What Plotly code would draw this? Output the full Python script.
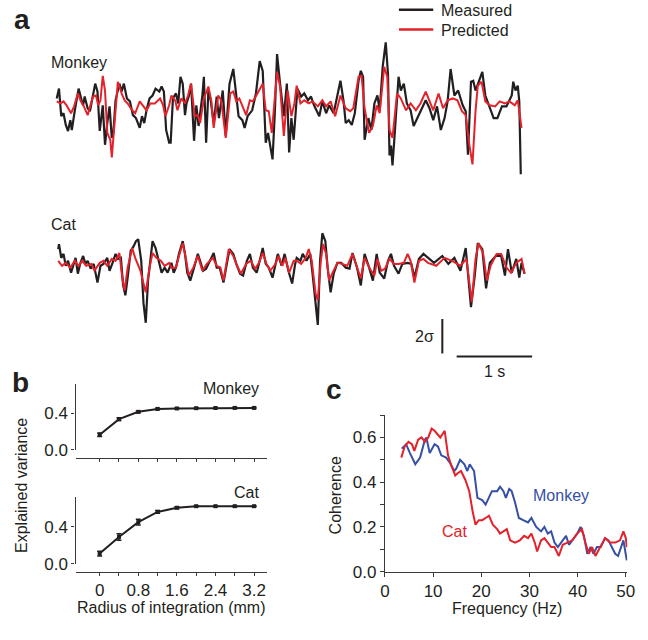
import plotly.graph_objects as go

# ---------------- data ----------------
# Panel a, monkey (time in s, signal in units of sigma)
monkey_t_meas = [0.01,0.04,0.07,0.10,0.13,0.16,0.19,0.21,0.25,0.30,
                 0.34,0.36,0.38,0.42,0.45,0.48,0.52,0.55,0.58,0.62,
                 0.65,0.68,0.71,0.74,0.76,0.79,0.84,0.87,0.90,0.94,
                 0.98,1.02,1.06,1.11,1.14,1.17,1.20,1.24,1.28,1.32,
                 1.37,1.40,1.43,1.46,1.50,1.52,1.55,1.59,1.62,1.65,
                 1.68,1.71,1.73,1.76,1.79,1.83,1.86,1.89,1.94,1.96,
                 1.99,2.02,2.05,2.09,2.13,2.16,2.21,2.25,2.30,2.35,
                 2.38,2.42,2.47,2.50,2.54,2.60,2.65,2.70,2.74,2.78,
                 2.81,2.87,2.90,2.93,2.97,3.02,3.06,3.09,3.12,3.15,
                 3.20,3.25,3.29,3.34,3.38,3.42,3.49,3.53,3.58,3.62,
                 3.68,3.73,3.77,3.81,3.84,3.88,3.92,3.96,4.01,4.04,
                 4.07,4.09,4.14,4.18,4.22,4.26,4.29,4.33,4.37,4.40,
                 4.42,4.44,4.46,4.49,4.54,4.57,4.61,4.65,4.70,4.74,
                 4.79,4.84,4.90,4.95,5.00,5.05,5.10,5.15,5.19,5.23,
                 5.28,5.33,5.39,5.43,5.46,5.50,5.53,5.56,5.60,5.65,
                 5.69,5.74,5.80,5.85,5.91,5.97,6.04,6.06,6.09,6.12,
                 6.14,6.16]
monkey_v_meas = [0.00,0.57,-1.03,-0.86,-1.54,-1.89,-1.26,-1.83,-0.69,0.57,
                 -0.11,-0.40,0.11,-0.57,-0.74,-0.11,0.86,0.40,-1.89,-0.40,
                 -2.69,-1.43,-0.46,-2.29,-2.00,-0.11,0.86,0.40,0.86,0.00,
                 -0.17,-0.97,-1.14,-1.71,-1.03,-1.43,-0.69,0.00,0.17,0.57,
                 0.40,0.69,0.40,-1.83,-2.57,-2.57,0.00,0.29,-0.29,1.26,
                 0.86,-0.97,-0.29,0.11,0.86,-2.46,-0.40,-1.60,0.17,1.26,
                 -2.57,0.46,-0.11,-1.43,0.11,-1.14,0.46,-2.17,0.86,1.71,
                 0.46,-1.03,-1.26,-1.71,-1.03,-0.69,0.29,2.17,1.60,-2.57,
                 -2.00,-3.54,-0.86,2.57,0.86,-1.03,0.86,-3.14,-1.14,-2.40,
                 0.57,0.11,0.29,-0.11,0.11,-0.40,-1.03,-0.17,-0.86,-0.40,
                 -0.86,0.29,1.03,-0.11,-1.43,-1.26,-1.54,-0.86,1.03,1.60,
                 1.26,-2.40,-1.14,-1.83,-0.29,0.17,-0.69,1.83,3.26,1.43,
                 -3.31,-2.74,-3.89,-2.00,1.26,0.46,0.86,-0.29,-0.69,-1.60,
                 -1.14,-0.69,-0.11,-0.57,-1.26,-0.46,-1.83,-1.14,-0.17,1.71,
                 0.17,0.46,-0.40,-0.74,-3.26,0.97,1.03,0.46,0.97,1.54,
                 0.17,-0.40,-1.14,-1.14,-0.46,-0.46,0.17,0.97,0.46,0.74,
                 -0.17,-4.40]
monkey_t_pred = [0.01,0.06,0.10,0.14,0.20,0.24,0.29,0.33,0.37,0.42,
                 0.49,0.53,0.56,0.59,0.62,0.65,0.68,0.72,0.74,0.78,
                 0.82,0.87,0.91,0.95,1.01,1.05,1.11,1.16,1.20,1.25,
                 1.31,1.38,1.42,1.45,1.50,1.53,1.58,1.61,1.66,1.71,
                 1.75,1.79,1.84,1.88,1.91,1.96,2.02,2.06,2.09,2.15,
                 2.19,2.25,2.31,2.35,2.39,2.43,2.48,2.52,2.57,2.61,
                 2.67,2.74,2.78,2.82,2.86,2.89,2.93,2.97,3.02,3.07,
                 3.12,3.16,3.19,3.24,3.29,3.35,3.40,3.47,3.53,3.58,
                 3.64,3.70,3.77,3.84,3.90,3.94,4.01,4.05,4.09,4.15,
                 4.20,4.25,4.29,4.35,4.39,4.42,4.46,4.52,4.57,4.64,
                 4.70,4.77,4.83,4.90,4.95,5.00,5.07,5.13,5.19,5.26,
                 5.32,5.38,5.43,5.47,5.52,5.56,5.59,5.64,5.69,5.75,
                 5.82,5.88,5.95,6.01,6.08,6.12,6.17]
monkey_v_pred = [-0.17,-0.29,-0.17,-0.40,-0.86,-0.46,0.29,-0.17,-0.46,-0.97,
                 0.11,0.17,-0.40,-0.11,1.31,0.46,-2.00,-2.40,-3.43,-1.03,
                 0.97,0.29,-0.11,-0.29,-0.69,-0.86,-0.17,-0.46,-0.69,-0.29,
                 -0.29,0.00,-0.40,-1.03,-0.40,0.17,-0.11,-0.69,0.00,-0.29,
                 0.17,0.86,-1.03,-0.97,-1.43,0.00,0.69,-0.17,-1.71,0.17,
                 -0.11,-2.29,0.29,0.40,-0.17,0.00,-0.57,-0.97,-0.11,-0.17,
                 0.29,0.86,-0.69,-0.74,-2.00,-0.46,1.54,0.69,-2.17,0.46,
                 -1.03,-0.29,0.74,-0.29,-0.11,-0.29,-0.17,-0.46,-0.11,-0.46,
                 -0.17,-1.03,0.17,-0.57,-0.74,-0.57,1.26,1.31,-0.57,-2.00,
                 -1.60,-0.40,-0.86,1.83,1.26,-1.83,-2.29,0.29,0.00,-0.69,
                 -0.29,-0.69,-0.29,0.40,-0.11,-0.69,0.29,-0.57,-0.11,0.00,
                 -0.11,-0.74,-0.97,-2.46,-3.83,-0.74,0.74,0.97,-0.17,-0.40,
                 -0.46,-0.17,-0.29,-0.17,-0.40,-0.11,-1.71]

# Panel a, cat
cat_t_meas = [0.03,0.04,0.07,0.10,0.13,0.16,0.20,0.23,0.26,0.29,
              0.32,0.36,0.39,0.42,0.46,0.50,0.55,0.59,0.63,0.68,
              0.71,0.75,0.79,0.82,0.86,0.89,0.92,0.95,0.99,1.03,
              1.06,1.09,1.13,1.16,1.19,1.22,1.28,1.32,1.37,1.40,
              1.44,1.48,1.53,1.56,1.59,1.63,1.68,1.71,1.74,1.78,
              1.83,1.88,1.91,1.95,1.99,2.04,2.09,2.13,2.17,2.22,
              2.27,2.30,2.35,2.39,2.44,2.48,2.53,2.57,2.61,2.66,
              2.70,2.74,2.78,2.82,2.87,2.91,2.94,2.99,3.03,3.08,
              3.13,3.17,3.19,3.24,3.27,3.32,3.37,3.40,3.45,3.47,
              3.50,3.53,3.57,3.60,3.64,3.68,3.73,3.78,3.84,3.89,
              3.93,3.99,4.04,4.09,4.15,4.20,4.25,4.29,4.35,4.40,
              4.44,4.48,4.54,4.59,4.66,4.71,4.75,4.81,4.87,4.93,
              5.01,5.12,5.20,5.28,5.36,5.43,5.50,5.55,5.59,5.65,
              5.70,5.75,5.83,5.90,5.95,5.99,6.04,6.10,6.14,6.17,
              6.21]
cat_v_meas = [0.97,1.26,0.46,0.69,0.00,0.29,-0.40,0.11,0.46,-0.46,
              0.11,0.57,0.11,0.29,-0.17,0.11,-0.97,0.00,0.11,0.46,
              -0.29,0.17,0.69,0.40,0.46,-1.14,-1.71,-0.69,0.86,1.14,
              1.43,1.54,0.29,-2.17,-3.31,-0.86,1.43,1.03,0.11,-0.40,
              -0.11,-0.40,0.17,-0.40,-0.11,0.69,1.43,0.69,-0.40,-0.86,
              -0.11,0.69,0.29,-0.29,-0.17,0.29,0.74,-0.11,-0.11,-0.97,
              0.11,0.97,0.69,0.11,-0.46,-0.57,0.29,0.69,-0.11,-0.40,
              0.29,1.03,0.11,-0.11,-0.69,0.11,0.69,0.00,0.69,-0.29,
              -1.03,0.11,0.46,0.29,0.69,0.29,0.69,-0.46,-2.57,-3.43,
              0.29,1.89,1.43,-0.11,-1.54,-0.46,0.17,0.17,-0.11,-0.17,
              0.74,-0.11,-1.14,0.69,-0.11,-0.86,0.69,-0.40,-0.74,0.29,
              0.69,0.00,-0.46,0.11,0.17,0.11,-0.69,0.40,0.69,0.46,
              0.17,0.57,0.11,0.46,-0.29,1.03,-2.40,-0.57,1.31,0.97,
              -1.31,0.17,0.57,0.57,-0.57,0.97,-0.40,0.40,-0.69,0.17,
              -0.46]
cat_t_pred = [0.03,0.08,0.13,0.19,0.25,0.30,0.35,0.40,0.47,0.51,
              0.58,0.63,0.68,0.74,0.79,0.84,0.88,0.91,0.95,1.01,
              1.05,1.12,1.16,1.19,1.24,1.28,1.33,1.39,1.44,1.50,
              1.53,1.59,1.63,1.68,1.72,1.76,1.82,1.88,1.94,2.00,
              2.08,2.13,2.18,2.22,2.29,2.35,2.40,2.45,2.52,2.58,
              2.64,2.69,2.74,2.79,2.84,2.91,2.95,3.00,3.04,3.09,
              3.15,3.19,3.25,3.31,3.35,3.39,3.44,3.47,3.51,3.54,
              3.58,3.62,3.66,3.73,3.79,3.86,3.93,3.99,4.04,4.09,
              4.16,4.22,4.26,4.31,4.36,4.42,4.48,4.54,4.61,4.66,
              4.70,4.75,4.81,4.87,4.93,5.04,5.15,5.25,5.36,5.44,
              5.51,5.56,5.60,5.66,5.71,5.76,5.84,5.90,5.97,6.03,
              6.10,6.17,6.21]
cat_v_pred = [0.29,0.00,0.17,-0.11,0.29,0.00,0.29,0.00,0.11,-0.29,
              0.17,0.29,0.00,0.40,0.29,0.74,-0.74,-1.43,-0.11,1.03,
              0.46,-0.29,-1.03,-1.54,-0.11,0.74,0.46,0.29,0.00,0.17,
              -0.11,-0.11,0.57,1.31,0.46,-0.57,-0.11,0.57,-0.29,0.11,
              0.46,0.00,-0.11,-0.86,0.97,0.57,0.00,-0.46,0.11,0.29,
              -0.17,0.17,0.74,0.11,-0.29,0.11,0.57,0.00,0.46,-0.40,
              0.29,0.29,0.11,0.46,0.97,0.29,-1.60,-2.00,0.29,1.26,
              0.69,-0.86,-0.46,0.17,0.11,0.00,0.69,-0.17,-0.74,0.46,
              -0.17,-0.57,0.40,-0.29,-0.17,0.40,0.11,0.11,0.17,0.69,
              0.29,-0.97,0.29,0.40,0.17,0.00,0.46,0.29,0.00,0.40,
              -2.11,0.40,1.31,0.74,-0.86,0.00,0.69,0.69,-0.11,-0.40,
              0.17,0.40,-0.46]

# Panel b: explained variance vs radius of integration (mm)
radius = [0, 0.4, 0.8, 1.2, 1.6, 2.0, 2.4, 2.8, 3.2]
ev_monkey = [0.165, 0.335, 0.415, 0.447, 0.452, 0.455, 0.457, 0.458, 0.458]
ev_monkey_err = [0.02, 0.015, 0.01, 0.008, 0.006, 0.006, 0.006, 0.006, 0.006]
ev_cat = [0.11, 0.29, 0.45, 0.56, 0.605, 0.622, 0.622, 0.622, 0.622]
ev_cat_err = [0.025, 0.035, 0.03, 0.015, 0.01, 0.006, 0.006, 0.006, 0.006]
radius_ticktext = ["0", "", "0.8", "", "1.6", "", "2.4", "", "3.2"]

# Panel c: coherence vs frequency (Hz)
freq_monkey = [3.5,4.4,5.2,6.3,7.3,8.3,8.6,9.3,10.3,11.0,11.7,12.7,13.4,14.4,14.8,
               15.6,16.5,17.1,17.6,18.5,19.2,20.2,20.9,21.6,22.2,23.3,23.9,24.6,25.1,
               25.8,26.3,27.0,27.8,28.7,29.7,30.4,31.4,32.4,33.1,33.8,34.5,35.2,35.9,
               36.9,37.6,38.2,38.9,39.9,40.6,41.3,42.0,42.7,43.3,44.0,44.8,45.7,46.4,
               47.1,47.8,48.4,49.5,50.2]
coh_monkey = [0.55,0.57,0.53,0.48,0.51,0.59,0.60,0.53,0.57,0.56,0.52,0.51,0.49,0.45,0.46,
              0.50,0.48,0.45,0.48,0.45,0.33,0.32,0.30,0.33,0.36,0.36,0.38,0.36,0.33,
              0.37,0.36,0.31,0.24,0.23,0.22,0.24,0.20,0.18,0.20,0.17,0.18,0.13,0.11,
              0.14,0.16,0.12,0.14,0.17,0.20,0.16,0.08,0.11,0.08,0.11,0.11,0.15,0.14,
              0.11,0.08,0.07,0.14,0.05]
freq_cat = [3.4,4.1,4.9,5.6,6.1,6.9,7.6,8.3,9.0,9.7,10.3,11.0,11.5,12.4,13.1,13.7,
            14.6,15.1,15.8,16.7,17.5,18.2,18.8,19.5,20.2,20.9,21.6,22.4,23.3,23.9,
            24.6,25.3,26.0,27.0,28.0,28.9,29.7,30.4,31.1,31.6,32.4,33.1,33.8,34.5,
            35.2,36.1,36.9,37.9,38.9,39.9,40.9,41.6,42.3,43.0,43.7,44.7,45.7,46.7,
            47.8,48.8,49.5,50.0,50.2]
coh_cat = [0.51,0.56,0.58,0.57,0.54,0.59,0.60,0.58,0.60,0.64,0.63,0.61,0.60,0.63,0.52,0.48,
           0.43,0.44,0.45,0.41,0.36,0.27,0.21,0.23,0.23,0.24,0.25,0.21,0.19,0.17,
           0.18,0.19,0.14,0.13,0.14,0.16,0.15,0.17,0.13,0.09,0.14,0.15,0.13,0.11,
           0.11,0.07,0.12,0.13,0.14,0.17,0.19,0.13,0.08,0.11,0.07,0.11,0.15,0.13,
           0.13,0.14,0.18,0.15,0.11]

legend_names = ["Measured", "Predicted"]

# ---------------- styling ----------------
W, H = 648, 640
FONT = "Liberation Sans, Arial, Helvetica, sans-serif"
INK = "#231f20"
RED = "#e3222b"
BLUE = "#3550a4"
AXC = "#3a3a3a"


def fx(p):
    return p / W


def fy(p):
    return 1 - p / H


fig = go.Figure()

# Panel a traces
fig.add_trace(go.Scatter(x=monkey_t_meas, y=monkey_v_meas, mode="lines", name=legend_names[0],
                         line=dict(color=INK, width=2.2), xaxis="x", yaxis="y"))
fig.add_trace(go.Scatter(x=monkey_t_pred, y=monkey_v_pred, mode="lines", name=legend_names[1],
                         line=dict(color=RED, width=2.0), xaxis="x", yaxis="y"))
fig.add_trace(go.Scatter(x=cat_t_meas, y=cat_v_meas, mode="lines",
                         line=dict(color=INK, width=2.2), xaxis="x2", yaxis="y2"))
fig.add_trace(go.Scatter(x=cat_t_pred, y=cat_v_pred, mode="lines",
                         line=dict(color=RED, width=2.0), xaxis="x2", yaxis="y2"))

# Panel b traces
for xs, ys, es, xa, ya in [(radius, ev_monkey, ev_monkey_err, "x3", "y3"),
                           (radius, ev_cat, ev_cat_err, "x4", "y4")]:
    fig.add_trace(go.Scatter(x=xs, y=ys, mode="lines+markers",
                             line=dict(color=INK, width=2),
                             marker=dict(symbol="square", size=4, color=INK),
                             error_y=dict(type="data", array=es, width=2.5, thickness=1.5, color=INK),
                             xaxis=xa, yaxis=ya, cliponaxis=False))

# Panel c traces
fig.add_trace(go.Scatter(x=freq_monkey, y=coh_monkey, mode="lines",
                         line=dict(color=BLUE, width=2), xaxis="x5", yaxis="y5"))
fig.add_trace(go.Scatter(x=freq_cat, y=coh_cat, mode="lines",
                         line=dict(color=RED, width=2), xaxis="x5", yaxis="y5"))

tickfont = dict(family=FONT, size=17, color=INK)
hidden = dict(visible=False, showgrid=False, zeroline=False)

b_x = dict(domain=[fx(72), fx(267)], range=[-0.50, 3.46], anchor="free", showline=True,
           linecolor=AXC, linewidth=1.3, ticks="outside", ticklen=3, tickcolor=AXC,
           tickvals=radius, ticktext=radius_ticktext, showgrid=False, zeroline=False,
           tickfont=tickfont)
b_y = dict(range=[0, 0.72], showline=True, linecolor=AXC, linewidth=1.3, ticks="outside",
           ticklen=3, tickcolor=AXC, tickvals=[0, 0.4], ticktext=["0.0", "0.4"],
           showgrid=False, zeroline=False, tickfont=tickfont)

fig.update_layout(
    width=W, height=H, margin=dict(l=0, r=0, t=0, b=0),
    paper_bgcolor="white", plot_bgcolor="white",
    font=dict(family=FONT, color=INK, size=16),
    showlegend=False,
    xaxis=dict(domain=[fx(40), fx(560)], range=[-0.156, 6.597], anchor="y", **hidden),
    yaxis=dict(domain=[fy(190), fy(30)], range=[-5.143, 4.0], anchor="x", **hidden),
    xaxis2=dict(domain=[fx(40), fx(560)], range=[-0.156, 6.597], anchor="y2", **hidden),
    yaxis2=dict(domain=[fy(385), fy(220)], range=[-6.571, 2.857], anchor="x2", **hidden),
    xaxis3=dict(position=fy(465), showticklabels=False, **b_x),
    yaxis3=dict(domain=[fy(457), fy(390)], anchor="x3", **b_y),
    xaxis4=dict(position=fy(580.7), showticklabels=True, **b_x),
    yaxis4=dict(domain=[fy(572.7), fy(505)], anchor="x4", **b_y),
    xaxis5=dict(domain=[fx(387.7), fx(635)], range=[0, 50.3], anchor="y5", showline=True,
                linecolor=AXC, linewidth=1.3, ticks="outside", ticklen=4, tickcolor=AXC,
                tickvals=[0, 10, 20, 30, 40, 50], showgrid=False, zeroline=False,
                tickfont=tickfont),
    yaxis5=dict(domain=[fy(580.7), fy(421.7)], range=[0, 0.7], anchor="x5", showline=True,
                linecolor=AXC, linewidth=1.3, ticks="outside", ticklen=4, tickcolor=AXC,
                tickvals=[0, 0.2, 0.4, 0.6], ticktext=["0.0", "0.2", "0.4", "0.6"],
                minor=dict(tickvals=[0.1, 0.3, 0.5, 0.7], ticks="outside", ticklen=4, tickcolor=AXC),
                showgrid=False, zeroline=False, tickfont=tickfont),
)

# scale bars (in cat-trace data units: 2 sigma, 1 s)
fig.add_shape(type="line", xref="x2", yref="y2", x0=5.12, x1=5.12, y0=-3.09, y1=-5.09,
              line=dict(color=INK, width=2))
fig.add_shape(type="line", xref="x2", yref="y2", x0=5.31, x1=6.31, y0=-5.26, y1=-5.26,
              line=dict(color=INK, width=2))

# legend keys for panel a
for name, col, ypx in [(legend_names[0], INK, 10), (legend_names[1], RED, 30)]:
    fig.add_shape(type="line", xref="paper", yref="paper", x0=fx(402), x1=fx(437),
                  y0=fy(ypx), y1=fy(ypx), line=dict(color=col, width=2.5))


def note(text, x, y, xanchor="center", size=16, color=INK, bold=False, angle=0, xref="paper", yref="paper"):
    t = f"<b>{text}</b>" if bold else text
    fig.add_annotation(text=t, x=x, y=y, xref=xref, yref=yref, xanchor=xanchor, yanchor="middle",
                       showarrow=False, textangle=angle,
                       font=dict(family=FONT, size=size, color=color))


note(legend_names[0], fx(443), fy(11), xanchor="left")
note(legend_names[1], fx(443), fy(31), xanchor="left")

note("2σ", 5.04, -4.1, xanchor="right", xref="x2", yref="y2")
note("1 s", 5.81, -6.15, xref="x2", yref="y2")

# panel letters
note("a", fx(7), fy(20), xanchor="left", size=28, bold=True)
note("b", fx(5), fy(389), xanchor="left", size=28, bold=True)
note("c", fx(326), fy(396), xanchor="left", size=28, bold=True)

# labels
note("Monkey", fx(45), fy(64), xanchor="left", size=16)
note("Cat", fx(45), fy(228), xanchor="left", size=16)
note("Monkey", fx(261), fy(395), xanchor="right")
note("Cat", fx(261), fy(500), xanchor="right")
note("Monkey", fx(537), fy(503), xanchor="left", color=BLUE)
note("Cat", fx(444), fy(540), xanchor="left", color=RED)

# axis titles
note("Explained variance", fx(17), fy(493), angle=-90)
note("Radius of integration (mm)", fx(170), fy(617))
note("Coherence", fx(337), fy(503), angle=-90)
note("Frequency (Hz)", fx(512), fy(618))

fig.write_html("out.html", config={"displayModeBar": False},
               post_script="document.body.style.margin='0';document.body.style.overflow='hidden';")
